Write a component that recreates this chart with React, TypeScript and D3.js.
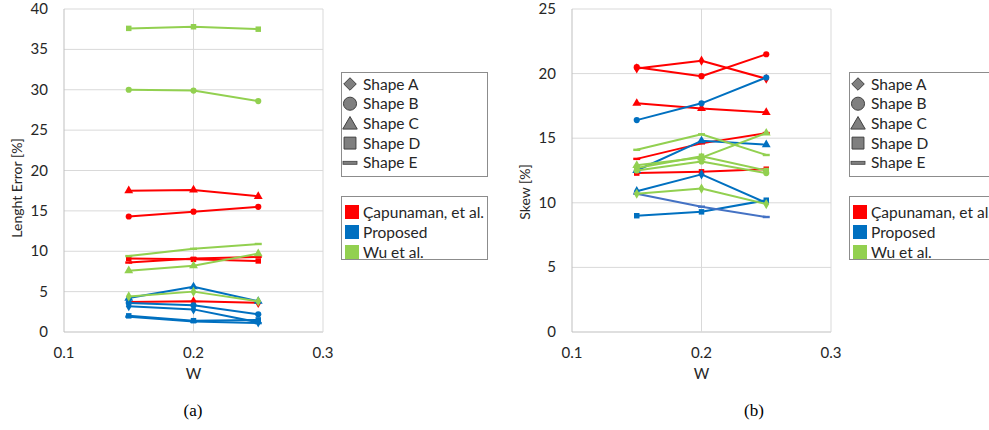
import React, { useEffect, useRef } from 'react';
import * as d3 from 'd3';

// x positions shared by every series
const wValues = [0.15, 0.2, 0.25];
const xTicks = [0.1, 0.2, 0.3];

const shapeNames = ['Shape A', 'Shape B', 'Shape C', 'Shape D', 'Shape E'];
const methodNames = ['Çapunaman, et al.', 'Proposed', 'Wu et al.'];
const methodColors = ['#ff0000', '#0070c0', '#92d050'];

// (a) length error, one row per shape (A..E)
const lengthCapunaman = [
  [3.7, 3.8, 3.6],
  [14.3, 14.9, 15.5],
  [17.5, 17.6, 16.8],
  [9.1, 9.0, 8.8],
  [8.6, 9.1, 9.3],
];
const lengthProposed = [
  [3.2, 2.8, 1.2],
  [3.6, 3.3, 2.2],
  [4.2, 5.6, 3.8],
  [2.0, 1.4, 1.5],
  [1.9, 1.3, 1.1],
];
const lengthWu = [
  [4.4, 5.0, 3.8],
  [30.0, 29.9, 28.6],
  [7.6, 8.2, 9.7],
  [37.6, 37.8, 37.5],
  [9.4, 10.3, 10.9],
];
const lengthTicks = [0, 5, 10, 15, 20, 25, 30, 35, 40];

// (b) skew
const skewCapunaman = [
  [20.4, 21.0, 19.6],
  [20.5, 19.8, 21.5],
  [17.7, 17.3, 17.0],
  [12.3, 12.4, 12.6],
  [13.4, 14.6, 15.4],
];
const skewProposed = [
  [10.9, 12.2, 10.0],
  [16.4, 17.7, 19.7],
  [12.5, 14.8, 14.5],
  [9.0, 9.3, 10.2],
  [10.7, 9.7, 8.9],
];
const skewWu = [
  [10.7, 11.1, 9.9],
  [12.5, 13.2, 12.3],
  [12.9, 13.5, 15.4],
  [12.7, 13.6, 12.5],
  [14.1, 15.3, 13.7],
];
const skewTicks = [0, 5, 10, 15, 20, 25];

const FONT = 'Lato, "Open Sans", sans-serif';

function drawPanel(svg, opts) {
  const { left, yTicks, yMax, series, yTitle, yTitleY, caption, captionX, altColor } = opts;
  const plotTop = 9;
  const plotBottom = 332;
  const x = d3.scaleLinear().domain([0.1, 0.3]).range([left, left + 259]);
  const y = d3.scaleLinear().domain([0, yMax]).range([plotBottom, plotTop]);

  const g = svg.append('g');

  // grid
  g.selectAll('line.h').data(yTicks).enter().append('line')
    .attr('x1', x(0.1)).attr('x2', x(0.3))
    .attr('y1', d => y(d)).attr('y2', d => y(d))
    .attr('stroke', d => d === 0 ? '#bfbfbf' : '#d9d9d9').attr('stroke-width', 1);
  g.selectAll('line.v').data(xTicks).enter().append('line')
    .attr('x1', d => x(d)).attr('x2', d => x(d))
    .attr('y1', plotTop).attr('y2', plotBottom)
    .attr('stroke', d => d === 0.1 ? '#bfbfbf' : '#d9d9d9').attr('stroke-width', 1);

  // tick labels
  g.selectAll('text.yt').data(yTicks).enter().append('text')
    .attr('x', x(0.1) - 16).attr('y', d => y(d) + 5)
    .attr('text-anchor', 'end').attr('font-family', FONT).attr('font-size', 15)
    .attr('fill', '#262626').text(d => d);
  g.selectAll('text.xt').data(xTicks).enter().append('text')
    .attr('x', d => x(d)).attr('y', 358)
    .attr('text-anchor', 'middle').attr('font-family', FONT).attr('font-size', 15)
    .attr('fill', '#262626').text(d => d);

  g.append('text')
    .attr('x', x(0.2)).attr('y', 379)
    .attr('text-anchor', 'middle').attr('font-family', FONT).attr('font-size', 15)
    .attr('fill', '#262626').text('W');
  g.append('text')
    .attr('transform', `translate(${left - 42},${yTitleY}) rotate(-90)`)
    .attr('text-anchor', 'middle').attr('font-family', FONT).attr('font-size', 14)
    .attr('fill', '#262626').text(yTitle);

  // series
  const line = d3.line().x((d, i) => x(wValues[i])).y(d => y(d));
  const symbols = [d3.symbolDiamond, d3.symbolCircle, d3.symbolTriangle, d3.symbolSquare];
  const sizes = [30, 30, 34, 30];

  series.forEach((rows, m) => {
    rows.forEach((vals, s) => {
      const color = altColor && altColor.method === m && altColor.shape === s ? altColor.color : methodColors[m];
      g.append('path').attr('d', line(vals))
        .attr('fill', 'none').attr('stroke', color).attr('stroke-width', 2)
        .attr('stroke-linejoin', 'round');
      const pts = g.selectAll(null).data(vals).enter();
      if (s < 4) {
        pts.append('path')
          .attr('transform', (d, i) => `translate(${x(wValues[i])},${y(d)})`)
          .attr('d', d3.symbol().type(symbols[s]).size(sizes[s]))
          .attr('fill', color);
      } else {
        pts.append('rect')
          .attr('x', (d, i) => x(wValues[i]) - 3.5).attr('y', d => y(d) - 1.2)
          .attr('width', 7).attr('height', 2.4).attr('fill', color);
      }
    });
  });

  // legends
  const lx = left + 277;
  const leg = svg.append('g');
  leg.append('rect').attr('x', lx + 0.5).attr('y', 72.5).attr('width', 146).attr('height', 104)
    .attr('fill', '#fff').attr('stroke', '#8c8c8c');
  const legSymbols = [d3.symbolDiamond2, d3.symbolCircle, d3.symbolTriangle2, d3.symbolSquare2];
  const legSizes = [100, 135, 150, 180];
  shapeNames.forEach((name, i) => {
    const cy = 84 + i * 19.7;
    const sx = lx + 9;
    if (i < 4) {
      leg.append('path')
        .attr('transform', `translate(${sx},${cy + (i === 2 ? 1.5 : 0)})`)
        .attr('d', d3.symbol().type(legSymbols[i]).size(legSizes[i]))
        .attr('fill', '#7f7f7f').attr('stroke', '#404040').attr('stroke-width', 1);
    } else {
      leg.append('rect').attr('x', sx - 7).attr('y', cy - 1.5).attr('width', 14).attr('height', 3)
        .attr('fill', '#7f7f7f').attr('stroke', '#404040').attr('stroke-width', 0.8);
    }
    leg.append('text').attr('x', lx + 22).attr('y', cy + 5.5)
      .attr('font-family', FONT).attr('font-size', 15.5).attr('fill', '#262626').text(name);
  });

  leg.append('rect').attr('x', lx + 0.5).attr('y', 196.5).attr('width', 146).attr('height', 63)
    .attr('fill', '#fff').attr('stroke', '#8c8c8c');
  methodNames.forEach((name, i) => {
    const cy = 212 + i * 20;
    leg.append('rect').attr('x', lx + 4).attr('y', cy - 7).attr('width', 14).attr('height', 14)
      .attr('fill', methodColors[i]);
    leg.append('text').attr('x', lx + 22).attr('y', cy + 5.5)
      .attr('font-family', FONT).attr('font-size', 15.5).attr('fill', '#262626').text(name);
  });

  svg.append('text').attr('x', captionX).attr('y', 416)
    .attr('text-anchor', 'middle').attr('font-family', '"Liberation Serif", "DejaVu Serif", serif')
    .attr('font-size', 17).attr('fill', '#000').text(caption);
}

export default function App() {
  const ref = useRef(null);

  useEffect(() => {
    const svg = d3.select(ref.current);
    svg.selectAll('*').remove();

    drawPanel(svg, {
      left: 64,
      yTicks: lengthTicks,
      yMax: 40,
      series: [lengthCapunaman, lengthProposed, lengthWu],
      yTitle: 'Lenght Error [%]',
      yTitleY: 188,
      caption: '(a)',
      captionX: 193,
    });
    drawPanel(svg, {
      left: 572,
      yTicks: skewTicks,
      yMax: 25,
      series: [skewCapunaman, skewProposed, skewWu],
      yTitle: 'Skew [%]',
      yTitleY: 192,
      caption: '(b)',
      captionX: 754,
      altColor: { method: 1, shape: 4, color: '#4472c4' },
    });
  }, []);

  return (
    <svg
      ref={ref}
      width={989}
      height={430}
      style={{ position: 'absolute', left: 0, top: 0, background: '#fff', display: 'block' }}
    />
  );
}
